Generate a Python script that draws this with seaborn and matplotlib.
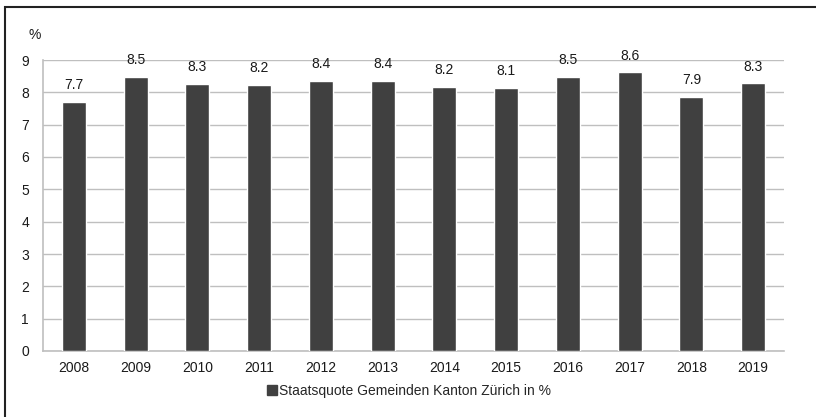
import matplotlib
matplotlib.use("Agg")
import matplotlib.pyplot as plt
import seaborn as sns
import pandas as pd
from matplotlib.patches import Rectangle
from matplotlib.lines import Line2D

# Data
years = ["2008", "2009", "2010", "2011", "2012", "2013",
         "2014", "2015", "2016", "2017", "2018", "2019"]
quote = [7.70, 8.47, 8.26, 8.23, 8.36, 8.36, 8.18, 8.14, 8.48, 8.62, 7.87, 8.28]
series_name = "Staatsquote Gemeinden Kanton Zürich in %"

df = pd.DataFrame({"Jahr": years, "Quote": quote})

sns.set_style("white")
plt.rcParams["font.family"] = ["Liberation Sans", "DejaVu Sans"]

bar_color = "#404040"
grid_color = "#bfbfbf"
text_color = "#1a1a1a"
fs = 10

fig = plt.figure(figsize=(8.16, 4.17), dpi=100)
ax = fig.add_axes([43 / 816, 1 - 351 / 417, (784 - 43) / 816, (351 - 60) / 417])

sns.barplot(data=df, x="Jahr", y="Quote", color=bar_color, width=0.39,
            saturation=1, ax=ax, zorder=3)

for i, v in enumerate(quote):
    ax.text(i, v + 0.3, f"{v:.1f}", ha="center", va="bottom", fontsize=fs,
            color=text_color, zorder=4)

ax.set_ylim(0, 9)
ax.set_xlim(-0.5, len(years) - 0.5)
ax.set_yticks(range(0, 10))
ax.yaxis.grid(True, color=grid_color, linewidth=1, zorder=0)
ax.set_xlabel("")
ax.set_ylabel("")

for side in ["top", "right"]:
    ax.spines[side].set_visible(False)
for side in ["left", "bottom"]:
    ax.spines[side].set_color(grid_color)
    ax.spines[side].set_linewidth(1.2)

# x ticks at category boundaries, labels centered
ax.set_xticks([i - 0.5 for i in range(len(years) + 1)], minor=False)
ax.set_xticklabels([])
ax.set_xticks(range(len(years)), minor=True)
ax.set_xticklabels(years, minor=True)
ax.tick_params(axis="x", which="major", length=4, color=grid_color, direction="out")
ax.tick_params(axis="x", which="minor", length=0, labelsize=fs, pad=7, colors=text_color)
ax.tick_params(axis="y", length=4, color=grid_color, direction="out",
               labelsize=fs, pad=6, labelcolor=text_color)

fig.text(35 / 816, 1 - 35 / 417, "%", fontsize=fs, ha="center", va="center",
         color=text_color)

handle = Line2D([], [], marker="s", linestyle="", markersize=7.5,
                markerfacecolor=bar_color, markeredgecolor=bar_color)
fig.legend([handle], [series_name], loc="center", bbox_to_anchor=(408 / 816, 1 - 391 / 417),
           frameon=False, fontsize=fs, handletextpad=0.0, handlelength=1.0)

# outer frame (only top and left edges visible in the reference)
fig.patches.append(Rectangle((4.5 / 816, -0.1), 1.2, 1 - 6.5 / 417 + 0.1,
                             transform=fig.transFigure, fill=False,
                             edgecolor="#222222", linewidth=1.5, zorder=10))

fig.savefig("out.png", dpi=100)
